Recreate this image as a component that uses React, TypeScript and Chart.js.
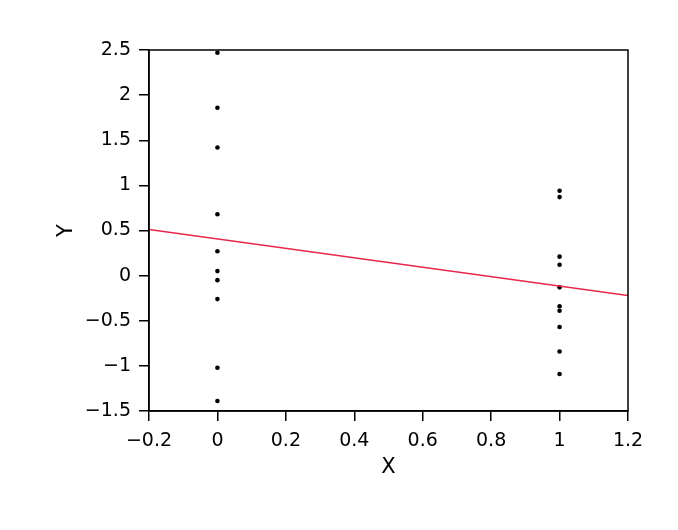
import React, { useEffect, useRef } from "react";
import { Chart, registerables } from "chart.js";

Chart.register(...registerables);

const groupX = [0, 1];
const yAtX0 = [2.47, 1.86, 1.42, 0.68, 0.27, 0.05, -0.05, -0.26, -1.02, -1.39];
const yAtX1 = [0.94, 0.87, 0.21, 0.12, -0.13, -0.34, -0.39, -0.57, -0.84, -1.09];
const fitX = [-0.2, 1.2];
const fitY = [0.51, -0.22];
const xTicks = [-0.2, 0, 0.2, 0.4, 0.6, 0.8, 1, 1.2];
const yTicks = [-1.5, -1, -0.5, 0, 0.5, 1, 1.5, 2, 2.5];

const FONT = "DejaVu Sans";

const fmt = (v: number) => {
  const s = String(Math.round(v * 10) / 10);
  return s.replace("-", "\u2212");
};

const boxPlugin = {
  id: "boxPlugin",
  afterDraw(chart: any) {
    const { ctx, chartArea } = chart;
    ctx.save();
    ctx.strokeStyle = "#000";
    ctx.lineWidth = 1.5;
    ctx.strokeRect(chartArea.left, chartArea.top, chartArea.right - chartArea.left, chartArea.bottom - chartArea.top);
    ctx.restore();
  },
};

export default function App() {
  const ref = useRef<HTMLCanvasElement>(null);
  useEffect(() => {
    if (!ref.current) return;
    const points = [
      ...yAtX0.map((y) => ({ x: groupX[0], y })),
      ...yAtX1.map((y) => ({ x: groupX[1], y })),
    ];
    const chart = new Chart(ref.current, {
      type: "scatter",
      data: {
        datasets: [
          {
            type: "line",
            data: fitX.map((x, i) => ({ x, y: fitY[i] })),
            borderColor: "#e6264b",
            borderWidth: 1.5,
            pointRadius: 0,
            fill: false,
          } as any,
          {
            data: points,
            backgroundColor: "#000",
            borderColor: "#000",
            pointRadius: 2.3,
            borderWidth: 0,
          },
        ],
      },
      options: {
        animation: false,
        responsive: false,
        layout: { padding: { top: 50, right: 50, left: 0, bottom: 0 } },
        plugins: { legend: { display: false }, tooltip: { enabled: false } },
        scales: {
          x: {
            type: "linear",
            min: -0.2,
            max: 1.2,
            afterBuildTicks: (s: any) => {
              s.ticks = xTicks.map((v) => ({ value: v }));
            },
            afterFit: (s: any) => {
              s.height = 119;
            },
            grid: { drawOnChartArea: false, tickLength: 10, color: "#000", lineWidth: 1.5 },
            border: { display: true, color: "#000", width: 1.5 },
            ticks: {
              color: "#000",
              padding: 9,
              font: { family: FONT, size: 19 },
              callback: (v: any) => fmt(Number(v)),
              maxRotation: 0,
              autoSkip: false,
            },
            title: {
              display: true,
              text: "X",
              color: "#000",
              font: { family: FONT, size: 21 },
              padding: { top: 0, bottom: 50 },
            },
          },
          y: {
            type: "linear",
            min: -1.5,
            max: 2.5,
            afterBuildTicks: (s: any) => {
              s.ticks = yTicks.map((v) => ({ value: v }));
            },
            afterFit: (s: any) => {
              s.width = 149;
            },
            grid: { drawOnChartArea: false, tickLength: 10, color: "#000", lineWidth: 1.5 },
            border: { display: true, color: "#000", width: 1.5 },
            ticks: {
              color: "#000",
              padding: 8,
              font: { family: FONT, size: 19 },
              callback: (v: any) => fmt(Number(v)),
              autoSkip: false,
            },
            title: {
              display: true,
              text: "Y",
              color: "#000",
              font: { family: FONT, size: 21 },
              padding: { top: 54, bottom: 0 },
            },
          },
        },
      },
      plugins: [boxPlugin],
    });
    return () => chart.destroy();
  }, []);
  return (
    <div style={{ position: "absolute", left: 0, top: 0, width: 678, height: 530, background: "#fff" }}>
      <canvas ref={ref} width={678} height={530} style={{ width: 678, height: 530 }} />
    </div>
  );
}
